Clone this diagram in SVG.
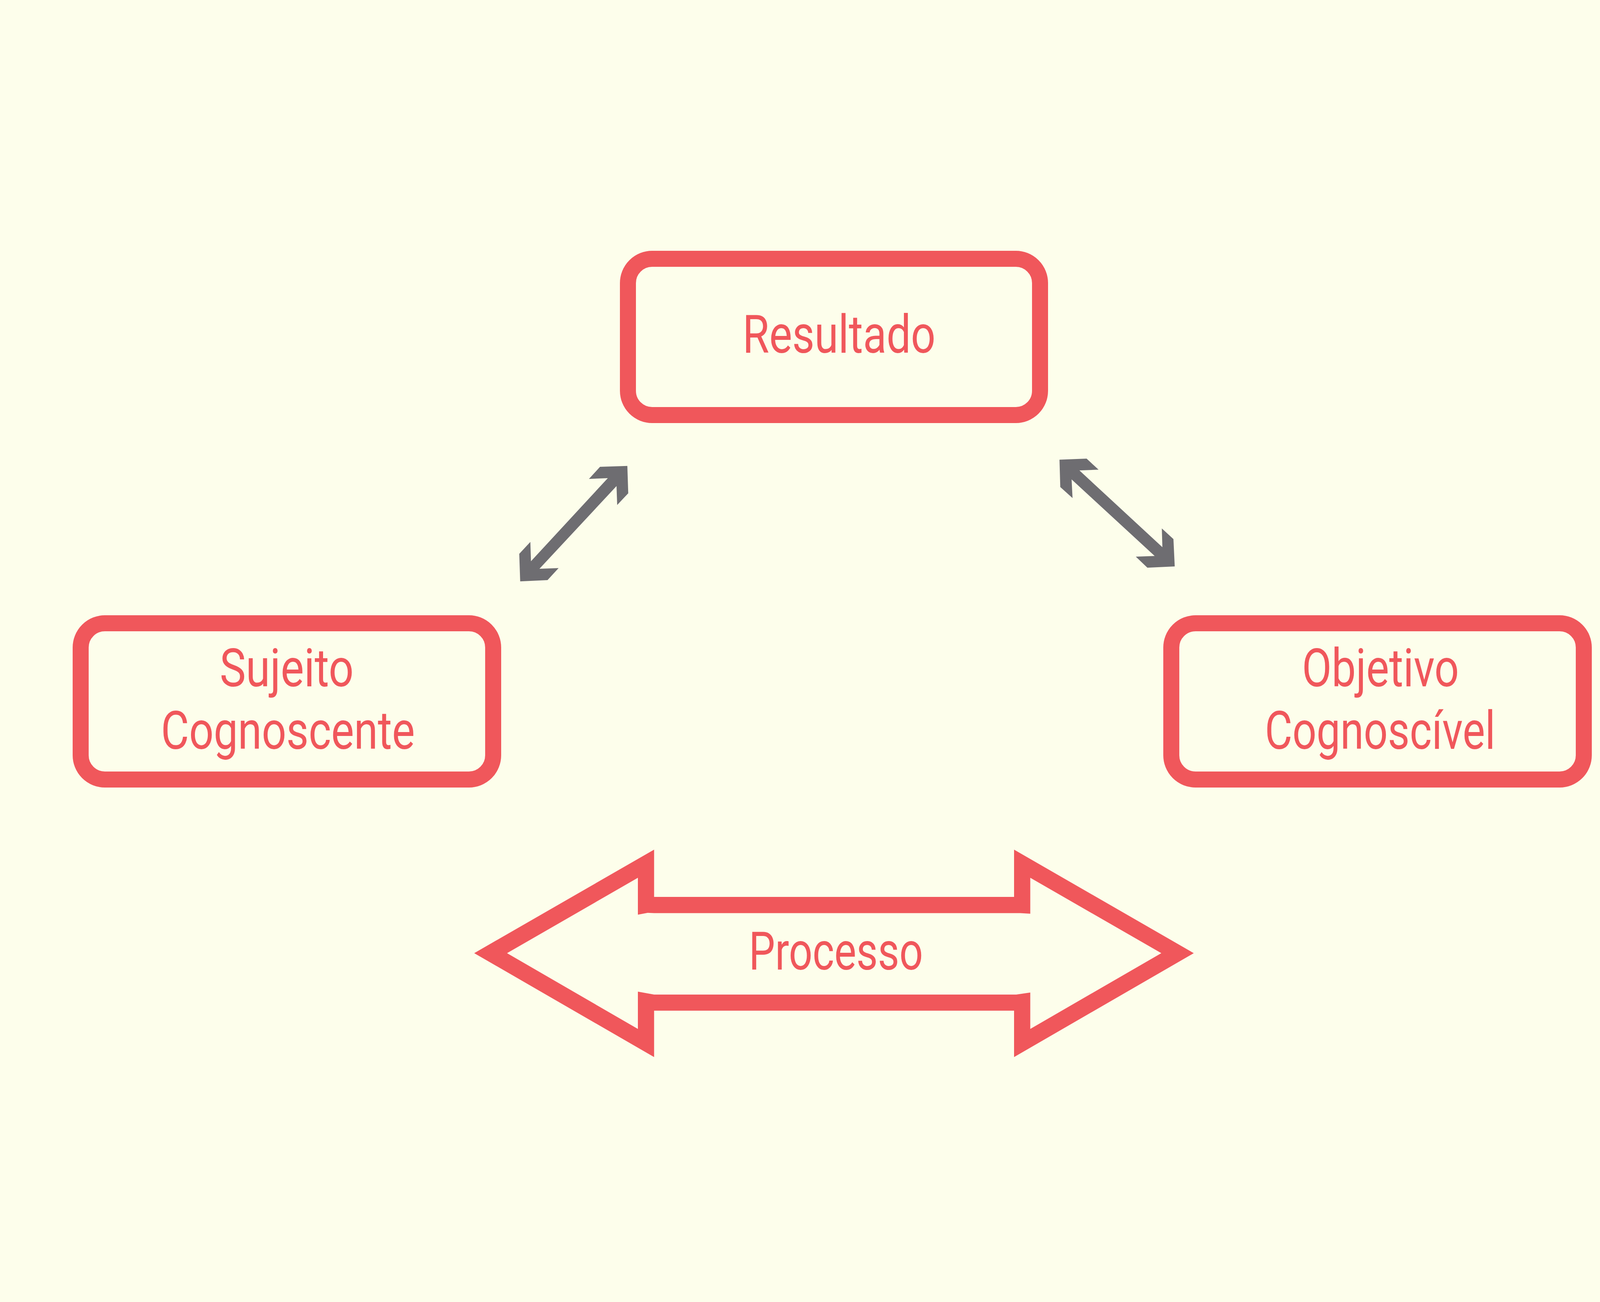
<svg xmlns="http://www.w3.org/2000/svg" width="4267" height="3333" viewBox="0 0 4267 3333">
<style>
.box{fill:none;stroke:#F0575B;stroke-width:41}
.lbl{fill:#F0575B;font-family:Roboto,"DejaVu Sans","Liberation Sans",sans-serif;font-size:136px;text-anchor:middle}
.conn{fill:#6E6D71;stroke:none}
.big{fill:#F0575B;fill-rule:evenodd;stroke:none}
</style>
<rect x="0" y="0" width="4267" height="3333" fill="#FDFEEB"/>
<g id="resultado">
<rect class="box" x="1607.5" y="662.5" width="1055" height="400" rx="62" ry="62"/>
<text class="lbl" x="2148" y="903" textLength="494" lengthAdjust="spacingAndGlyphs">Resultado</text>
</g>
<g id="sujeito-cognoscente">
<rect class="box" x="206.5" y="1595.5" width="1056" height="400" rx="62" ry="62"/>
<text class="lbl" x="734" y="1757" textLength="343" lengthAdjust="spacingAndGlyphs">Sujeito</text>
<text class="lbl" x="737" y="1917" textLength="650" lengthAdjust="spacingAndGlyphs">Cognoscente</text>
</g>
<g id="objetivo-cognoscivel">
<rect class="box" x="2998.5" y="1595.5" width="1056" height="400" rx="62" ry="62"/>
<text class="lbl" x="3534" y="1757" textLength="402" lengthAdjust="spacingAndGlyphs">Objetivo</text>
<text class="lbl" x="3533" y="1917" textLength="590" lengthAdjust="spacingAndGlyphs">Cognoscível</text>
</g>
<g id="processo">
<path class="big" d="M1214,2440 L1674.5,2175 L1674.5,2296 L2596,2296 L2596,2175 L3056,2440 L2596,2706 L2596,2587.3 L1674.5,2587.3 L1674.5,2706 Z M1298,2440 L1633,2247 L1633,2341.5 L1658,2336.8 L1674.5,2337.6 L2612,2337.6 L2637.5,2339 L2637.5,2247 L2973,2440 L2637.5,2634 L2637.5,2540.7 L2601.6,2545.9 L1674.5,2545.9 L1633,2538.5 L1633,2634 Z"/>
<text class="lbl" x="2140" y="2482" textLength="446" lengthAdjust="spacingAndGlyphs">Processo</text>
</g>
<g id="connectors">
<polygon class="conn" points="1606,1192.7 1536,1195 1507.7,1226 1556,1224 1359.3,1436.7 1357.7,1387.3 1329.3,1417.7 1331.7,1488.3 1401.7,1485 1430,1454.3 1381,1456 1578.3,1244.3 1580,1292.7 1608.3,1262.7"/>
<polygon class="conn" points="2712.3,1176.7 2781.7,1174 2812.3,1202.3 2763.3,1204.3 2975.7,1400.7 2974.3,1352.7 3004,1380 3007.3,1450 2937.3,1453.3 2907.7,1425 2956,1423.3 2743.3,1227.3 2745.7,1275 2714.3,1246.7"/>
</g>
</svg>
